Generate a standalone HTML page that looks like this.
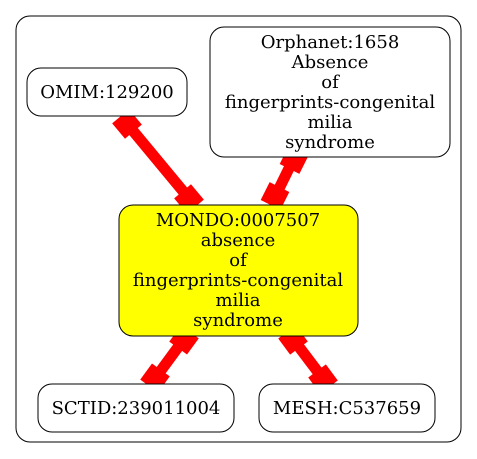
<!DOCTYPE html>
<html><head><meta charset="utf-8"><style>
html,body{margin:0;padding:0;background:#fff;}
svg{display:block;}
text{font-family:"DejaVu Serif","Liberation Serif",serif;font-size:18px;fill:#000;text-anchor:middle;}
</style></head><body>
<svg width="477" height="459" viewBox="0 0 477 459">
<rect x="16" y="16" width="445" height="426" rx="14" fill="#fff" stroke="#000"/>

<g>
<line x1="124" y1="120" x2="192" y2="202" stroke="#f00" stroke-width="11"/>
<rect x="-10" y="-11" width="20" height="22" fill="#f00" transform="translate(127,124) rotate(50)"/>
<rect x="-10" y="-11" width="20" height="22" fill="#f00" transform="translate(189,199) rotate(50)"/>
</g>
<g>
<line x1="296" y1="154" x2="272" y2="203" stroke="#f00" stroke-width="11"/>
<rect x="-10" y="-11" width="20" height="22" fill="#f00" transform="translate(294,160) rotate(116.6)"/>
<rect x="-10" y="-11" width="20" height="22" fill="#f00" transform="translate(275,196) rotate(116.6)"/>
</g>
<g>
<line x1="187" y1="335" x2="151" y2="384" stroke="#f00" stroke-width="11"/>
<rect x="-10" y="-11" width="20" height="22" fill="#f00" transform="translate(184,340) rotate(126)"/>
<rect x="-10" y="-11" width="20" height="22" fill="#f00" transform="translate(155,378) rotate(126)"/>
</g>
<g>
<line x1="290" y1="335" x2="327" y2="384" stroke="#f00" stroke-width="11"/>
<rect x="-10" y="-11" width="20" height="22" fill="#f00" transform="translate(293,340) rotate(53.5)"/>
<rect x="-10" y="-11" width="20" height="22" fill="#f00" transform="translate(323,379) rotate(53.5)"/>
</g>

<g>
<rect x="27" y="68" width="160" height="48" rx="14" fill="#fff" stroke="#000"/>
<text x="107" y="98">OMIM:129200</text>
</g>
<g>
<rect x="210" y="27" width="240" height="130" rx="14" fill="#fff" stroke="#000"/>
<text x="330" y="48">Orphanet:1658</text>
<text x="330" y="68">Absence</text>
<text x="330" y="88">of</text>
<text x="330" y="108">fingerprints-congenital</text>
<text x="330" y="128">milia</text>
<text x="330" y="148">syndrome</text>
</g>
<g>
<rect x="119" y="205" width="239" height="131" rx="14" fill="#ff0" stroke="#000"/>
<text x="238" y="226">MONDO:0007507</text>
<text x="238" y="246">absence</text>
<text x="238" y="266">of</text>
<text x="238" y="286">fingerprints-congenital</text>
<text x="238" y="306">milia</text>
<text x="238" y="326">syndrome</text>
</g>
<g>
<rect x="38" y="384" width="196" height="48" rx="14" fill="#fff" stroke="#000"/>
<text x="136" y="414">SCTID:239011004</text>
</g>
<g>
<rect x="259" y="384" width="176" height="48" rx="14" fill="#fff" stroke="#000"/>
<text x="347" y="414">MESH:C537659</text>
</g>
</svg>
</body></html>
